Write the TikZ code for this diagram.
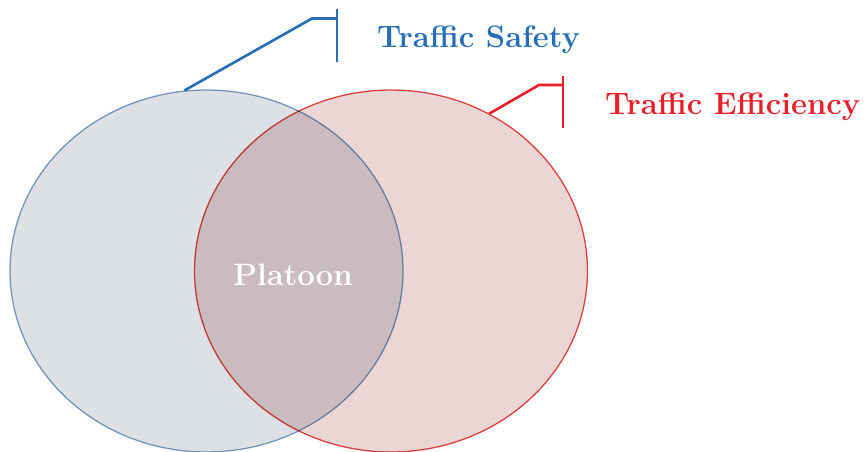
\documentclass[tikz,border=0pt]{standalone}
\usetikzlibrary{positioning}
\usetikzlibrary{shapes.geometric}
\definecolor{safetyblue}{RGB}{38,110,184}
\definecolor{effred}{RGB}{232,30,40}
\definecolor{safetyfill}{RGB}{221,225,229}
\definecolor{safetyline}{RGB}{128,160,196}
\definecolor{efffill}{RGB}{234,214,212}
\definecolor{effline}{RGB}{230,72,72}

\begin{document}
\begin{tikzpicture}[x=1pt, y=-1pt, every node/.style={inner sep=0pt},
        circ/.style={ellipse, minimum width=393pt, minimum height=362pt, line width=1.3pt},
        callout/.style={line width=2.6pt, line cap=butt},
        lbl/.style={font=\fontsize{31}{31}\selectfont\bfseries}]
        \useasboundingbox (0, 0) rectangle (867, 452);

        \begin{scope}[blend group=multiply]
        \node[circ, draw=safetyline, fill=safetyfill] (safety) at (206.5, 271) {};
        \node[circ, draw=effline, fill=efffill] (eff) at (391, 271) {};
        \end{scope}
        \node[lbl, white, anchor=base] (platoon) at (293, 285) {Platoon};

        \coordinate (sknee) at (312, 18.5);
        \coordinate (sbar) at (337, 18.5);
        \coordinate (stop) at (337, 9);
        \coordinate (sbot) at (337, 62);
        \node[lbl, safetyblue, anchor=base west] (safetytext) at (377, 48) {Traffic Safety};
        \draw[callout, safetyblue] (safety.97.5) -- (sknee) -- (sbar);
        \draw[callout, safetyblue] (stop) -- (sbot);

        \coordinate (eknee) at (539, 85);
        \coordinate (ebar) at (563, 85);
        \coordinate (etop) at (563, 76);
        \coordinate (ebot) at (563, 128);
        \node[lbl, effred, anchor=base west] (efftext) at (605, 114) {Traffic Efficiency};
        \draw[callout, effred] (eff.58.7) -- (eknee) -- (ebar);
        \draw[callout, effred] (etop) -- (ebot);
    \end{tikzpicture}
\end{document}
